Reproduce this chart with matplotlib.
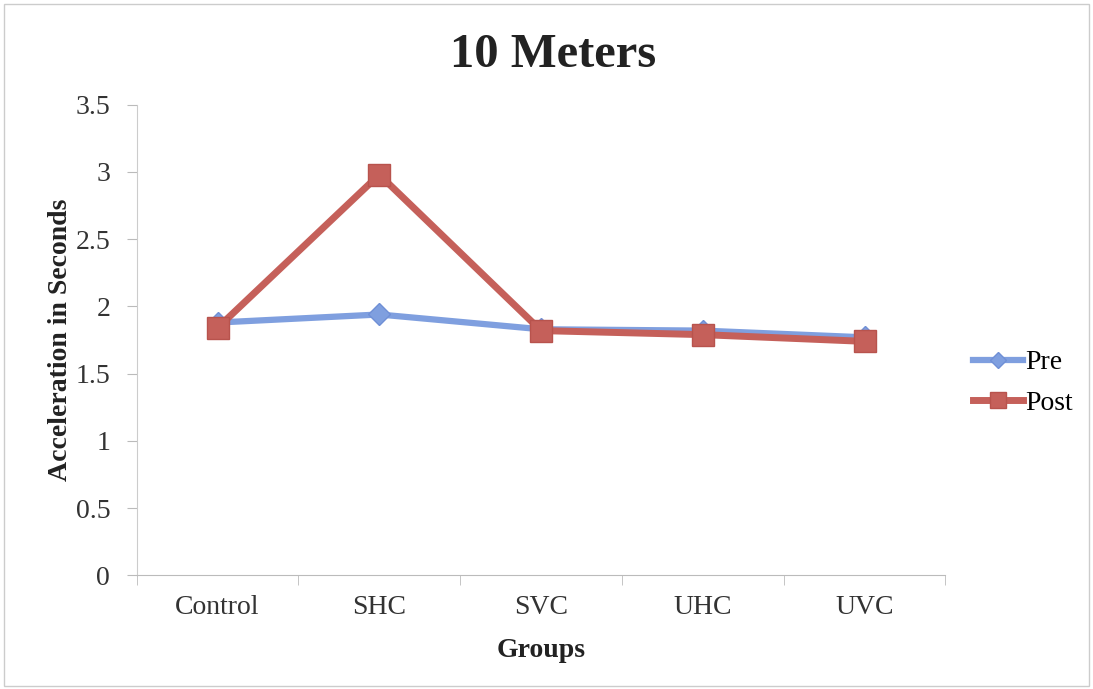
import matplotlib.pyplot as plt
from matplotlib.patches import Rectangle

# data
groups = ['Control', 'SHC', 'SVC', 'UHC', 'UVC']
pre = [1.88, 1.94, 1.83, 1.82, 1.77]
post = [1.84, 2.98, 1.82, 1.79, 1.74]

plt.rcParams['font.family'] = ['Liberation Serif', 'DejaVu Serif']

fig = plt.figure(figsize=(10.93, 6.89), dpi=100)
ax = fig.add_axes([0.125, 0.165, 0.740, 0.683])

x = list(range(len(groups)))
ax.plot(x, pre, color='#7f9fdf', lw=4.5, marker='D', ms=11,
        markeredgecolor='#6f8fd6', label='Pre', zorder=3)
ax.plot(x, post, color='#c5605a', lw=5, marker='s', ms=16,
        markeredgecolor='#b8534d', label='Post', zorder=4)

ax.set_xlim(-0.5, len(groups) - 0.5)
ax.set_ylim(0, 3.5)
ax.set_yticks([0, 0.5, 1, 1.5, 2, 2.5, 3, 3.5])
ax.set_yticklabels(['0', '0.5', '1', '1.5', '2', '2.5', '3', '3.5'])
ax.set_xticks(x)
ax.set_xticklabels(groups)
ax.set_xticks([i - 0.5 for i in range(len(groups) + 1)], minor=True)
ax.tick_params(axis='x', which='major', length=0, pad=14, labelsize=20)
ax.tick_params(axis='x', which='minor', length=7, color='#bbbbbb', direction='out')
ax.tick_params(axis='y', length=7, color='#bbbbbb', labelsize=20, pad=12)
for lab in ax.get_yticklabels() + ax.get_xticklabels():
    lab.set_color('#333333')

for s in ['top', 'right']:
    ax.spines[s].set_visible(False)
ax.spines['left'].set_color('#cccccc')
ax.spines['bottom'].set_color('#bbbbbb')

fig.text(0.506, 0.92, '10 Meters', fontsize=35, fontweight='bold',
         ha='center', va='center', color='#222222')
ax.set_xlabel('Groups', fontsize=20, fontweight='bold', labelpad=13, color='#222222')
ax.set_ylabel('Acceleration in Seconds', fontsize=20, fontweight='bold', labelpad=2, color='#222222')

leg = ax.legend(loc='center left', bbox_to_anchor=(0.89, 0.444),
                bbox_transform=fig.transFigure, borderaxespad=0, borderpad=0,
                frameon=False, fontsize=20, handlelength=1.8, handletextpad=0.1,
                labelspacing=0.55, markerscale=0.75)

fig.patches.append(Rectangle((0.004, 0.004), 0.992, 0.99, transform=fig.transFigure,
                             fill=False, edgecolor='#cccccc', lw=1))

fig.savefig('out.png', dpi=100)
